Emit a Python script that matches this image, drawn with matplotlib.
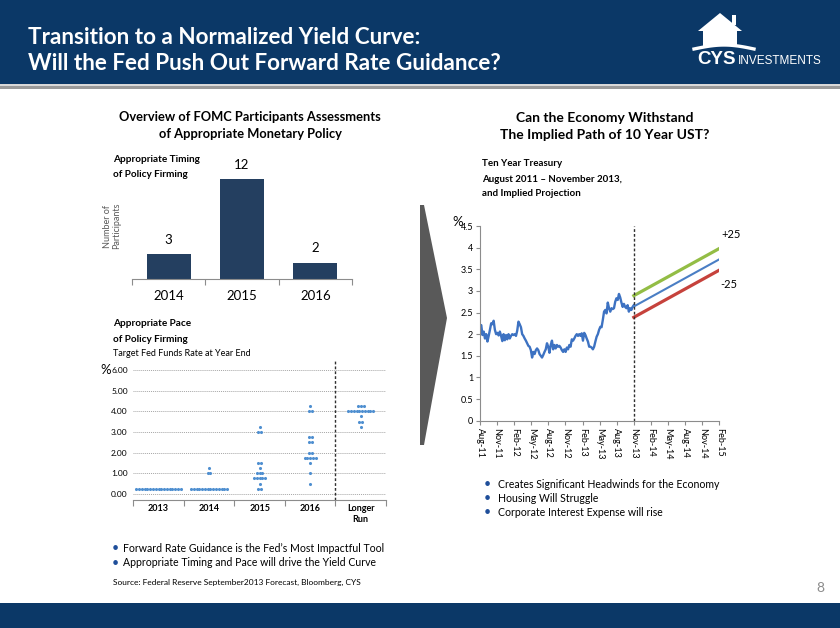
import numpy as np
import matplotlib
matplotlib.use('Agg')
import matplotlib.pyplot as plt
from matplotlib.patches import Rectangle, Polygon

NAVY = '#0b3867'
BAR = '#243f60'
DOT = '#4f8fd0'
LINE = '#3d72c2'
GREEN = '#93bd45'
BLUE = '#4a7ec4'
RED = '#c6423c'
GREY = '#595959'

plt.rcParams['font.family'] = ['Lato', 'DejaVu Sans']

# --- data ---
timing_years = ['2014', '2015', '2016']
timing_counts = [3, 12, 2]

dot_cols = ['2013', '2014', '2015', '2016', 'Longer\nRun']
# (rate, number of participants) per column
dots_2013 = [(0.25, 17)]
dots_2014 = [(0.25, 14), (1.00, 2), (1.25, 1)]
dots_2015 = [(0.25, 2), (0.50, 1), (0.75, 5), (1.00, 3), (1.25, 1), (1.50, 2), (3.00, 2), (3.25, 1)]
dots_2016 = [(0.50, 1), (1.00, 1), (1.50, 1), (1.75, 5), (2.00, 2), (2.50, 2), (2.75, 2), (4.00, 2), (4.25, 1)]
dots_long = [(3.25, 1), (3.50, 2), (3.75, 1), (4.00, 10), (4.25, 3)]
dot_ticks = [0, 1, 2, 3, 4, 5, 6]

# 10 year yield, Aug-11 .. Nov-13 (roughly weekly)
yields = [2.17, 2.21, 1.98, 2.06, 1.90, 2.00, 1.83, 1.96, 2.10, 2.25, 2.23, 2.31, 2.10, 2.00,
          2.03, 1.97, 2.06, 1.96, 1.84, 2.00, 1.86, 1.98, 1.88, 2.00, 1.90, 1.96, 2.00, 1.98,
          2.00, 1.96, 2.08, 2.29, 2.23, 2.16, 2.00, 1.96, 1.90, 1.85, 1.79, 1.73, 1.71, 1.63,
          1.46, 1.59, 1.54, 1.63, 1.67, 1.63, 1.54, 1.50, 1.46, 1.52, 1.59, 1.65, 1.79, 1.71,
          1.57, 1.75, 1.85, 1.65, 1.75, 1.67, 1.75, 1.71, 1.73, 1.69, 1.63, 1.59, 1.65, 1.59,
          1.69, 1.65, 1.75, 1.71, 1.88, 1.85, 1.90, 1.96, 2.00, 1.96, 2.00, 1.96, 2.02, 1.85,
          2.03, 1.98, 1.90, 1.83, 1.71, 1.71, 1.69, 1.65, 1.71, 1.83, 1.94, 2.00, 2.10, 2.17,
          2.16, 2.33, 2.52, 2.56, 2.48, 2.73, 2.60, 2.52, 2.60, 2.58, 2.60, 2.75, 2.83, 2.79,
          2.93, 2.85, 2.73, 2.63, 2.70, 2.63, 2.60, 2.67, 2.52, 2.60, 2.56, 2.63, 2.67]
hist_months = 27  # Aug-11 to Nov-13
proj_months = [27, 42]  # Nov-13 to Feb-15
proj_base = [2.64, 3.73]
proj_up = [2.89, 3.98]
proj_down = [2.39, 3.48]
month_labels = ['Aug-11', 'Nov-11', 'Feb-12', 'May-12', 'Aug-12', 'Nov-12', 'Feb-13',
                'May-13', 'Aug-13', 'Nov-13', 'Feb-14', 'May-14', 'Aug-14', 'Nov-14', 'Feb-15']
yield_ticks = [0, 0.5, 1, 1.5, 2, 2.5, 3, 3.5, 4, 4.5]

W, H = 840, 628
fig = plt.figure(figsize=(8.4, 6.28), dpi=100)


def ax_px(l, t, r, b):
    return fig.add_axes([l / W, 1 - b / H, (r - l) / W, (b - t) / H])


def txt(x, y, s, **kw):
    kw.setdefault('va', 'center')
    kw.setdefault('color', 'black')
    fig.text(x / W, 1 - y / H, s, **kw)


def rect(x, y, w, h, c):
    fig.patches.append(Rectangle((x / W, 1 - (y + h) / H), w / W, h / H,
                                 transform=fig.transFigure, color=c, lw=0, zorder=0))


# header / footer bands
rect(0, 0, W, 84, NAVY)
rect(0, 84, W, 2, '#d9d9d9')
rect(0, 86, W, 3, '#9a9a9a')
rect(0, 603, W, 25, NAVY)
txt(28, 38, 'Transition to a Normalized Yield Curve:', color='white', fontsize=16.2, fontweight='bold')
txt(28, 63, 'Will the Fed Push Out Forward Rate Guidance?', color='white', fontsize=16.2, fontweight='bold')

# logo
house = [(698, 31), (720, 13), (742, 31), (737, 31), (737, 46), (703, 46), (703, 31)]
fig.patches.append(Polygon([(x / W, 1 - y / H) for x, y in house], closed=True,
                           transform=fig.transFigure, color='white', lw=0))
for wx, wy in [(713, 33), (720, 33), (713, 39), (720, 39)]:
    rect(wx, wy, 5, 5, NAVY)
rect(732, 15, 4, 10, 'white')
swoosh_x = np.linspace(694, 754, 30)
swoosh_y = 49 - 4 * np.sin((swoosh_x - 694) / 60 * np.pi)
fig.lines.append(plt.Line2D(swoosh_x / W, 1 - swoosh_y / H, transform=fig.transFigure,
                            color='white', lw=2.4))
txt(697, 60, 'CYS', color='white', fontsize=13.5, fontweight='bold', family=['Liberation Sans'])
txt(738, 61, 'INVESTMENTS', color='white', fontsize=8.5, family=['Liberation Sans Narrow', 'Liberation Sans'])

# chevron
chev = [(420, 205), (424, 205), (447, 318), (424, 445), (420, 445)]
fig.patches.append(Polygon([(x / W, 1 - y / H) for x, y in chev], closed=True,
                           transform=fig.transFigure, color='#595959', lw=0))

# ---- left panel ----
txt(250, 117, 'Overview of FOMC Participants Assessments', ha='center', fontsize=9.3, fontweight='bold')
txt(250, 134, 'of Appropriate Monetary Policy', ha='center', fontsize=9.3, fontweight='bold')
txt(113, 160, 'Appropriate Timing', fontsize=7.2, fontweight='bold')
txt(113, 174, 'of Policy Firming', fontsize=7.2, fontweight='bold')
txt(112, 226, 'Number of\nParticipants', ha='center', rotation=90, fontsize=6.5, color=GREY, linespacing=1.0)

axb = ax_px(132, 150, 352, 279.3)
xb = np.arange(len(timing_years))
axb.bar(xb, timing_counts, width=0.6, color=BAR)
for x, v in zip(xb, timing_counts):
    axb.text(x, v + 1.0, str(v), ha='center', va='bottom', fontsize=9.5)
axb.set_xlim(-0.5, 2.5)
axb.set_ylim(0, 15.52)
axb.set_xticks(np.arange(-0.5, 3, 1))
axb.set_xticklabels([])
axb.set_xticks(xb, minor=True)
axb.set_xticklabels(timing_years, minor=True, fontsize=9.5)
axb.tick_params(axis='x', which='major', direction='out', length=4, color='#8c8c8c')
axb.tick_params(axis='x', which='minor', length=0, pad=8)
axb.set_yticks([])
for s in ['top', 'left', 'right']:
    axb.spines[s].set_visible(False)
axb.spines['bottom'].set_color('#8c8c8c')

txt(113, 324, 'Appropriate Pace', fontsize=7.2, fontweight='bold')
txt(113, 339, 'of Policy Firming', fontsize=7.2, fontweight='bold')
txt(113, 353, 'Target Fed Funds Rate at Year End', fontsize=6.5)

axd = ax_px(133.3, 359.6, 386, 500)
spacing = 0.055
for col, rows in enumerate([dots_2013, dots_2014, dots_2015, dots_2016, dots_long]):
    for rate, n in rows:
        xs = col + (np.arange(n) - (n - 1) / 2) * spacing
        axd.scatter(xs, [rate] * n, s=5, color=DOT, lw=0, zorder=3)
axd.set_xlim(-0.5, 4.5)
axd.set_ylim(-0.29, 6.5)
axd.set_yticks(dot_ticks)
axd.set_yticklabels(['%.2f' % t for t in dot_ticks], fontsize=6)
axd.tick_params(axis='y', length=0, pad=4)
axd.grid(axis='y', linestyle=(0, (1, 1)), color='#a6a6a6', lw=0.7)
axd.set_xticks(np.arange(-0.5, 5, 1))
axd.set_xticklabels([])
axd.set_xticks(np.arange(5), minor=True)
axd.set_xticklabels(dot_cols, minor=True, fontsize=6.5, fontweight='bold', va='top')
axd.tick_params(axis='x', which='major', direction='out', length=4, color='#8c8c8c')
axd.tick_params(axis='x', which='minor', length=0, pad=3)
axd.axvline(3.5, color='#303030', linestyle=(0, (2, 1.5)), lw=1.0)
for s in ['top', 'left', 'right']:
    axd.spines[s].set_visible(False)
axd.spines['bottom'].set_color('#8c8c8c')
txt(100, 370, '%', fontsize=9.5)

txt(112, 548, '•', fontsize=9, color='#1f4e9a')
txt(123, 548, 'Forward Rate Guidance is the Fed\u2019s Most Impactful Tool', fontsize=7.6)
txt(112, 563, '•', fontsize=9, color='#1f4e9a')
txt(123, 563, 'Appropriate Timing and Pace will drive the Yield Curve', fontsize=7.6)
txt(113, 582, 'Source: Federal Reserve September2013 Forecast, Bloomberg, CYS', fontsize=6.0)

# ---- right panel ----
txt(605, 118, 'Can the Economy Withstand', ha='center', fontsize=10, fontweight='bold')
txt(605, 135, 'The Implied Path of 10 Year UST?', ha='center', fontsize=10, fontweight='bold')
txt(482, 164, 'Ten Year Treasury', fontsize=7, fontweight='bold')
txt(482, 179, 'August 2011 \u2013 November 2013,', fontsize=7, fontweight='bold')
txt(482, 194, 'and Implied Projection', fontsize=7, fontweight='bold')

axl = ax_px(480, 226, 719.3, 420.7)
hx = np.linspace(0, hist_months, len(yields))
axl.plot(hx, yields, color=LINE, lw=1.7)
axl.plot(proj_months, proj_up, color=GREEN, lw=2.3)
axl.plot(proj_months, proj_base, color=BLUE, lw=1.5)
axl.plot(proj_months, proj_down, color=RED, lw=2.3)
axl.axvline(hist_months, color='#303030', linestyle=(0, (2, 1.5)), lw=1.0)
axl.set_xlim(0, 42)
axl.set_ylim(0, 4.5)
axl.set_xticks(np.arange(0, 43, 3))
axl.set_xticklabels(month_labels, rotation=270, fontsize=6.5)
axl.set_yticks(yield_ticks)
axl.set_yticklabels(['%g' % t for t in yield_ticks], fontsize=6.5)
axl.tick_params(axis='both', direction='out', length=3, color='#8c8c8c', pad=2)
for s in ['top', 'right']:
    axl.spines[s].set_visible(False)
axl.spines['bottom'].set_color('#8c8c8c')
axl.spines['left'].set_color('#8c8c8c')
txt(721, 235, '+25', fontsize=8)
txt(720, 284, '-25', fontsize=8)
txt(452, 222, '%', fontsize=9.5)

for i, s in enumerate(['Creates Significant Headwinds for the Economy', 'Housing Will Struggle',
                       'Corporate Interest Expense will rise']):
    txt(484, 484 + 14 * i, '•', fontsize=9, color='#1f4e9a')
    txt(498, 484 + 14 * i, s, fontsize=7.6)

txt(820, 588, '8', fontsize=10, color='#8c8c8c', ha='center')

fig.savefig('out.png', dpi=100)
